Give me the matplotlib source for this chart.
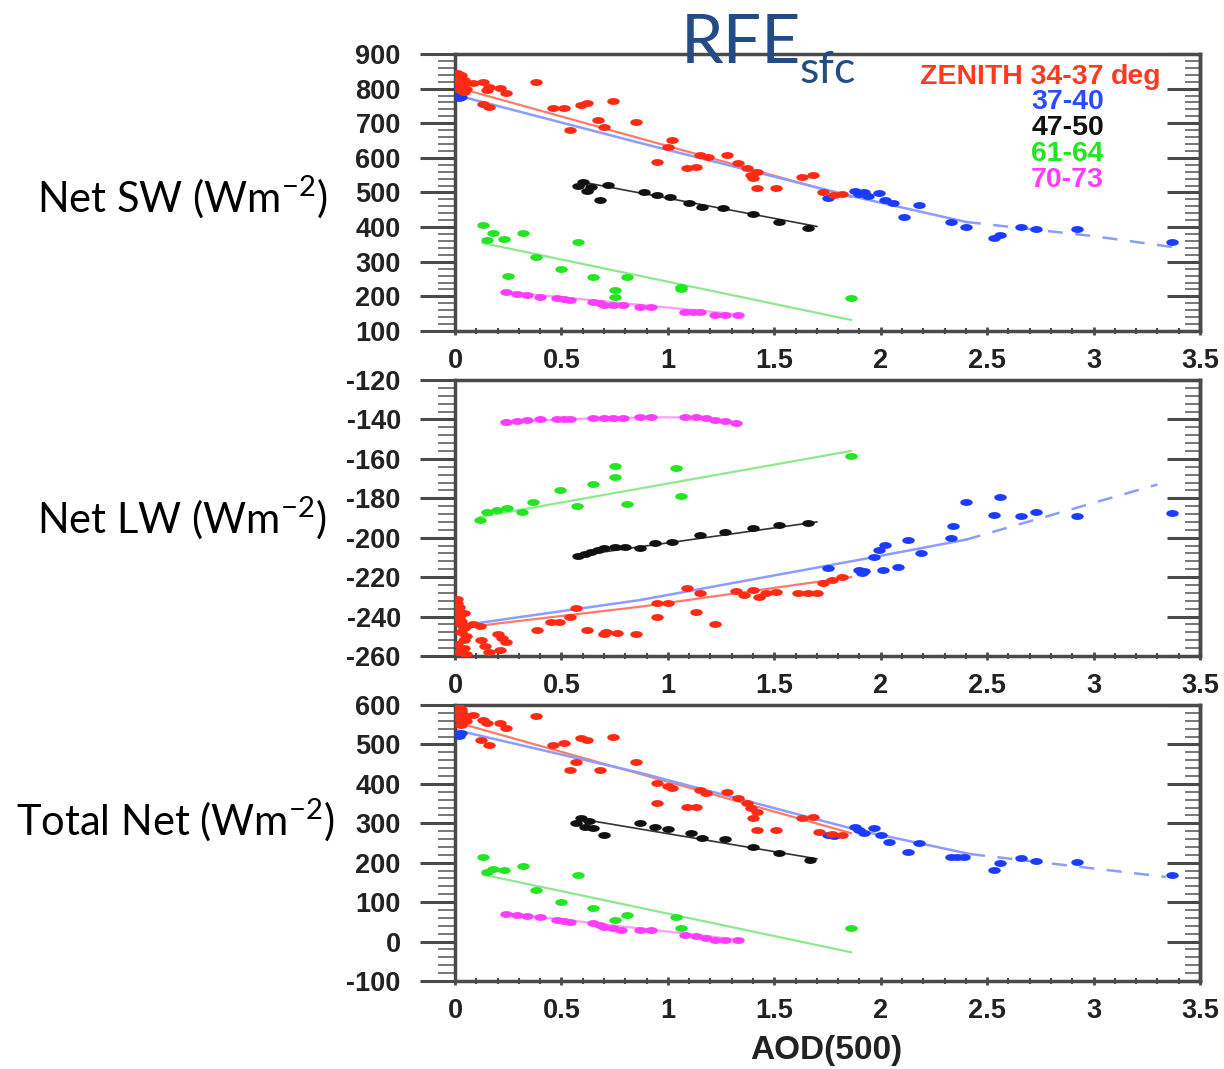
import matplotlib
matplotlib.use("Agg")
import matplotlib.pyplot as plt
import matplotlib.path as mpath
from matplotlib.ticker import MultipleLocator
import numpy as np

plt.rcParams['axes.unicode_minus'] = False
plt.rcParams['mathtext.fontset'] = 'custom'
plt.rcParams['mathtext.rm'] = 'Lato'
plt.rcParams['mathtext.it'] = 'Lato'

# ---------------- data: Net SW ----------------
red_x_sw = [0.01,0.02,0.02,0.03,0.03,0.04,0.04,0.05,0.01,0.03,0.05,0.085,0.13,0.15,0.16,0.21,0.24,0.13,0.16,
            0.38,0.46,0.51,0.54,0.59,0.62,0.67,0.70,0.74,0.85,0.95,1.00,1.02,1.09,1.13,1.15,1.19,1.28,
            1.33,1.37,1.39,1.40,1.42,1.42,1.51,1.63,1.68,1.73,1.78,1.82]
red_y_sw = [835,820,800,840,810,825,790,815,845,830,800,816,819,796,805,802,787,755,747,
            819,744,744,680,753,758,710,690,764,704,588,632,652,571,574,608,603,608,
            585,571,551,542,559,513,513,545,550,500,493,495]
blue_x_sw = [0.01,0.02,0.03,1.75,1.88,1.90,1.92,1.94,1.99,2.02,2.06,2.11,2.18,2.33,2.40,2.53,2.56,2.66,2.73,2.92,3.37]
blue_y_sw = [780,772,776,484,505,495,500,490,499,478,470,429,464,415,400,369,377,400,394,394,357]
black_x_sw = [0.58,0.60,0.62,0.64,0.68,0.72,0.89,0.95,1.01,1.10,1.16,1.26,1.40,1.52,1.66]
black_y_sw = [520,530,505,515,478,522,501,492,487,470,458,455,437,415,398]
green_x_sw = [0.13,0.15,0.18,0.23,0.32,0.25,0.38,0.50,0.58,0.65,0.75,0.75,0.81,1.06,1.06,1.86]
green_y_sw = [406,363,383,366,383,259,314,279,357,256,218,198,256,227,220,195]
mag_x_sw = [0.24,0.29,0.34,0.40,0.48,0.51,0.54,0.65,0.68,0.70,0.74,0.79,0.87,0.92,1.08,1.12,1.15,1.22,1.27,1.33]
mag_y_sw = [213,208,203,198,195,192,190,184,180,175,175,175,169,169,155,155,155,146,146,146]

red_fit_sw = ([0.0, 1.86], [805, 487])
blue_fit_sw = ([0.0, 0.87, 1.86, 2.4, 3.0, 3.4], [782, 643, 490, 415, 374, 340])
black_fit_sw = ([0.6, 1.7], [530, 402])
green_fit_sw = ([0.13, 1.86], [354, 132])
mag_fit_sw = ([0.24, 1.33], [213, 148])

# ---------------- data: Net LW ----------------
red_x_lw = [0.01,0.02,0.02,0.03,0.03,0.04,0.04,0.05,0.02,0.04,0.01,0.02,0.03,0.04,0.05,0.01,0.03,0.05,
            0.085,0.117,0.20,0.22,0.24,0.12,0.14,0.16,0.21,
            0.385,0.45,0.49,0.54,0.57,0.62,0.70,0.71,0.76,0.85,0.95,1.00,0.95,1.09,1.15,1.13,1.22,
            1.32,1.36,1.40,1.43,1.46,1.51,1.61,1.66,1.70,1.73,1.77,1.82]
red_y_lw = [-231,-235,-240,-244,-248,-252,-256,-259,-258,-238,-233,-237,-242,-246,-250,-254,-257,-245,
            -244,-245,-249,-251,-253,-252,-255,-258,-257,
            -247,-243,-242.8,-240,-235.6,-247,-249,-248,-248.5,-249,-233,-233,-240,-225.5,-228,-237.7,-244,
            -227,-229,-226.5,-230,-228,-227.5,-228,-228,-228,-223,-221.4,-220]
blue_x_lw = [0.02,0.03,1.75,1.90,1.91,1.92,1.97,1.99,2.02,2.01,2.08,2.13,2.19,2.33,2.34,2.40,2.53,2.56,2.66,2.73,2.92,3.37]
blue_y_lw = [-238,-244,-215.4,-216.4,-217.9,-217,-209.8,-206,-203.7,-216.4,-214.9,-201,-207.8,-200,-194,-182,
             -188.5,-179.4,-189,-187,-189,-187.5]
black_x_lw = [0.58,0.61,0.64,0.67,0.70,0.75,0.80,0.87,0.94,1.02,1.15,1.27,1.40,1.52,1.66]
black_y_lw = [-209.5,-208.5,-207,-206,-205,-204.5,-204.8,-205,-202.7,-202,-198.6,-197,-195,-193.5,-192.5]
green_x_lw = [0.117,0.15,0.197,0.244,0.315,0.366,0.493,0.573,0.648,0.752,0.752,0.808,1.04,1.06,1.86]
green_y_lw = [-191,-187,-186,-185,-187,-182,-176,-184,-173,-169,-163.6,-183,-164.6,-179,-158.6]
mag_x_lw = [0.24,0.29,0.34,0.40,0.48,0.51,0.54,0.65,0.70,0.74,0.79,0.87,0.92,1.08,1.13,1.18,1.22,1.27,1.32]
mag_y_lw = [-141.3,-141,-140.5,-140,-139.8,-139.8,-139.8,-139.3,-139.3,-139.3,-139.3,-138.8,-138.8,-138.8,
            -138.8,-139.3,-140.3,-141,-141.8]

red_fit_lw = ([0.06, 0.87, 1.86], [-245.3, -235, -220])
blue_fit_lw = ([0.06, 0.87, 1.91, 2.4, 3.3], [-244, -231.6, -211, -201, -173])
black_fit_lw = ([0.58, 1.7], [-209, -192])
green_fit_lw = ([0.117, 1.86], [-189.5, -156])
mag_fit_lw = ([0.24, 0.6, 0.95, 1.15, 1.33], [-141.3, -139.6, -138.9, -139, -141.5])

# ---------------- data: Total Net ----------------
red_x_tot = [0.01,0.02,0.02,0.03,0.03,0.04,0.05,0.01,0.03,0.05,0.085,0.13,0.15,0.21,0.24,0.12,0.16,0.38,0.46,0.51,0.54,
             0.59,0.62,0.57,0.68,0.74,0.85,0.95,1.00,1.02,0.95,1.09,1.13,1.15,1.18,1.28,1.33,1.37,1.39,1.42,
             1.40,1.42,1.51,1.63,1.68,1.71,1.77,1.82]
red_y_tot = [595,580,565,590,550,575,560,600,585,570,575,562,554,554,542,511,499,572,499,504,435,
             516,511,455,435,519,455,402,395,390,351,341,341,384,377,379,364,352,340,329,
             313,283,283,313,316,278,272,270]
blue_x_tot = [0.02,0.03,1.75,1.78,1.88,1.90,1.92,1.97,2.00,2.04,2.13,2.18,2.33,2.36,2.39,2.53,2.56,2.66,2.73,2.92,3.37]
blue_y_tot = [522,530,270,268,290,283,275,288,270,253,227,250,215,215,215,182,199,212,204,202,169]
black_x_tot = [0.57,0.59,0.61,0.63,0.65,0.70,0.87,0.94,1.00,1.11,1.16,1.27,1.40,1.52,1.67]
black_y_tot = [300,313,290,305,288,270,301,291,286,275,263,260,240,225,207]
green_x_tot = [0.13,0.15,0.18,0.23,0.32,0.38,0.50,0.58,0.65,0.75,0.81,1.04,1.06,1.86]
green_y_tot = [215,176,185,182,192,131,100,169,85,55,67,62,34,34]
mag_x_tot = [0.24,0.29,0.34,0.40,0.48,0.51,0.54,0.65,0.68,0.70,0.74,0.78,0.87,0.92,1.08,1.13,1.18,1.22,1.27,1.33]
mag_y_tot = [70,67,65,62,55,52,50,47,42,37,34,29,29,29,17,13,9,4,4,4]

red_fit_tot = ([0.0, 1.86], [557, 275])
blue_fit_tot = ([0.0, 0.87, 1.89, 2.42, 3.34], [537, 428, 283, 222, 164])
black_fit_tot = ([0.6, 1.7], [310, 210])
green_fit_tot = ([0.13, 1.86], [170, -27])
mag_fit_tot = ([0.24, 1.33], [72, 5])

zenith_labels = ["ZENITH 34-37", "37-40", "47-50", "61-64", "70-73"]
panel_labels = ["Net SW (Wm$^{-2}$)", "Net LW (Wm$^{-2}$)", "Total Net (Wm$^{-2}$)"]
x_ticks = [0, 0.5, 1, 1.5, 2, 2.5, 3, 3.5]
x_tick_labels = ["0", "0.5", "1", "1.5", "2", "2.5", "3", "3.5"]

# ---------------- styles ----------------
PT_COL = {'red': '#ff2a14', 'blue': '#1a3cff', 'black': '#111111', 'green': '#22e622', 'mag': '#ff3cff'}
FIT_COL = {'red': '#ff7a6a', 'blue': '#8c9cff', 'black': '#333333', 'green': '#8ee88e', 'mag': '#ff9cff'}
LEG_COL = ['#ff3a22', '#2a4cff', '#111111', '#22e622', '#ff3cff']

circ = mpath.Path.unit_circle()
ELL = mpath.Path(circ.vertices * np.array([1.0, 0.55]), circ.codes)

W, H = 1224, 1069
fig = plt.figure(figsize=(W / 100, H / 100), dpi=100)

def fx(px):
    return px / W

def fy(py):
    return 1 - py / H

left = fx(455)
width = fx(1200) - fx(455)
panels = [(54, 331), (380, 656), (705, 981)]
ylims = [(100, 900), (-260, -120), (-100, 600)]
ymaj = [100, 20, 100]
ymin = [20, 4, 20]

datasets = [
    dict(red=(red_x_sw, red_y_sw), blue=(blue_x_sw, blue_y_sw), black=(black_x_sw, black_y_sw),
         green=(green_x_sw, green_y_sw), mag=(mag_x_sw, mag_y_sw),
         fits=dict(red=red_fit_sw, blue=blue_fit_sw, black=black_fit_sw, green=green_fit_sw, mag=mag_fit_sw)),
    dict(red=(red_x_lw, red_y_lw), blue=(blue_x_lw, blue_y_lw), black=(black_x_lw, black_y_lw),
         green=(green_x_lw, green_y_lw), mag=(mag_x_lw, mag_y_lw),
         fits=dict(red=red_fit_lw, blue=blue_fit_lw, black=black_fit_lw, green=green_fit_lw, mag=mag_fit_lw)),
    dict(red=(red_x_tot, red_y_tot), blue=(blue_x_tot, blue_y_tot), black=(black_x_tot, black_y_tot),
         green=(green_x_tot, green_y_tot), mag=(mag_x_tot, mag_y_tot),
         fits=dict(red=red_fit_tot, blue=blue_fit_tot, black=black_fit_tot, green=green_fit_tot, mag=mag_fit_tot)),
]

SPINE = '#4a4a4a'
TICKFONT = dict(family='Liberation Sans', weight='bold', size=19.5)

axes = []
for i, ((top, bot), ds) in enumerate(zip(panels, datasets)):
    ax = fig.add_axes([left, fy(bot), width, (bot - top) / H])
    axes.append(ax)
    ax.set_xlim(0, 3.5)
    ax.set_ylim(*ylims[i])
    for s in ax.spines.values():
        s.set_color(SPINE)
        s.set_linewidth(2.5)

    # fit lines
    for key in ['mag', 'green', 'black', 'red', 'blue']:
        xs, ys = ds['fits'][key]
        xs = np.asarray(xs); ys = np.asarray(ys)
        if key == 'blue':
            solid = xs <= 2.42
            ax.plot(xs[solid], ys[solid], color=FIT_COL[key], lw=1.8, zorder=2)
            k = np.where(~solid)[0]
            dxs = np.concatenate([[xs[k[0] - 1]], xs[k]])
            dys = np.concatenate([[ys[k[0] - 1]], ys[k]])
            ax.plot(dxs, dys, color=FIT_COL[key], lw=1.8, ls=(0, (6, 5)), zorder=2)
        else:
            ax.plot(xs, ys, color=FIT_COL[key], lw=1.6 if key != 'black' else 1.2, zorder=2)

    for key in ['mag', 'green', 'black', 'blue', 'red']:
        xs, ys = ds[key]
        ax.plot(xs, ys, ls='none', marker=ELL, ms=9, color=PT_COL[key], mec='none', zorder=3)

    # ticks
    ax.yaxis.set_major_locator(MultipleLocator(ymaj[i]))
    ax.yaxis.set_minor_locator(MultipleLocator(ymin[i]))
    ax.xaxis.set_major_locator(MultipleLocator(0.5))
    ax.xaxis.set_minor_locator(MultipleLocator(0.1))
    ax.tick_params(axis='y', which='major', direction='out', length=25, width=2.2, color=SPINE,
                   pad=14, left=True, right=False)
    ax.tick_params(axis='y', which='minor', direction='out', length=12, width=1.4, color='#777777',
                   left=True, right=False)
    ax.tick_params(axis='x', which='major', direction='inout', length=6, width=2, color=SPINE,
                   pad=9, top=False)
    ax.tick_params(axis='x', which='minor', direction='inout', length=4, width=1.5, color=SPINE, top=False)
    ax.set_xticks(x_ticks)
    ax.set_xticklabels(x_tick_labels)
    for lab in ax.get_xticklabels() + ax.get_yticklabels():
        lab.set_fontproperties(matplotlib.font_manager.FontProperties(**TICKFONT))
        lab.set_color('#222222')

    sec = ax.secondary_yaxis('right')
    sec.yaxis.set_major_locator(MultipleLocator(ymaj[i]))
    sec.yaxis.set_minor_locator(MultipleLocator(ymin[i]))
    sec.tick_params(axis='y', which='major', direction='in', length=24, width=2.2, color=SPINE, labelright=False)
    sec.tick_params(axis='y', which='minor', direction='in', length=11, width=1.4, color='#777777')
    sec.spines['right'].set_color(SPINE)
    sec.spines['right'].set_linewidth(2.5)

# legend text in top panel
LEGFONT = dict(family='Liberation Sans', weight='bold', size=20.5)
ly = [77, 102, 128, 154, 180]
for lab, col, py in zip(zenith_labels, LEG_COL, ly):
    fig.text(fx(1104), fy(py), lab, ha='right', va='center', color=col, **LEGFONT)
fig.text(fx(1111), fy(77), "deg", ha='left', va='center', color=LEG_COL[0], **LEGFONT)

# x label
fig.text(fx(826), fy(1050), "AOD(500)", ha='center', va='center', color='#222222',
         family='Liberation Sans', weight='bold', size=24)

# title
TCOL = '#234b84'
fig.text(fx(681), fy(63), "RFE", ha='left', va='baseline', color=TCOL, family='Lato', size=49)
fig.text(fx(799), fy(83), "sfc", ha='left', va='baseline', color=TCOL, family='Lato', size=32)

# panel labels
for lab, (cx, cy) in zip(panel_labels, [(182, 197), (182, 518), (175, 820)]):
    fig.text(fx(cx), fy(cy), lab, ha='center', va='center', color='black', family='Lato', size=30)

fig.savefig("out.png", dpi=100)
